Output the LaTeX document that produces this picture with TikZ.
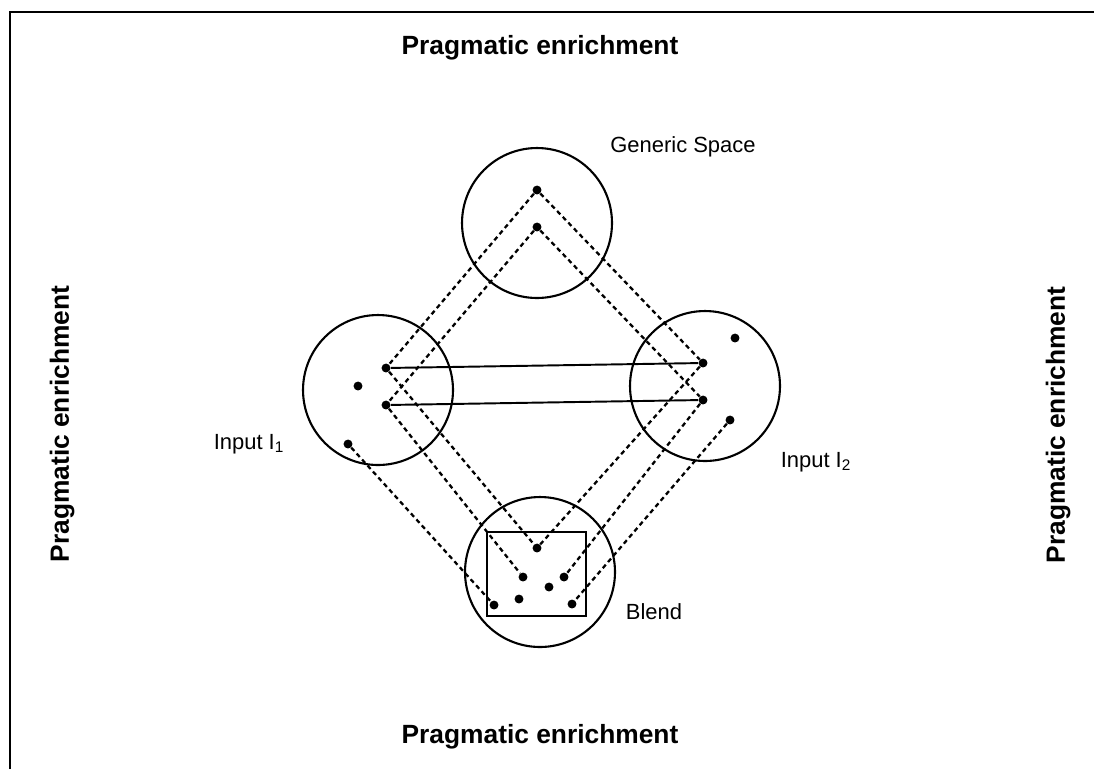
\documentclass[tikz,border=0pt]{standalone}
\usepackage{fontspec}
\setmainfont{Liberation Sans}
\usetikzlibrary{positioning}

\begin{document}
\begin{tikzpicture}[
  x=0.02cm,y=-0.02cm,
  space/.style={draw,circle,line width=1.2pt,minimum size=3cm,inner sep=0pt},
  pt/.style={circle,fill,inner sep=1.8pt},
  link/.style={line width=1.3pt,dash pattern=on 2.6pt off 2pt},
  counterpart/.style={line width=1.1pt},
  enrich/.style={font=\fontsize{15}{18}\selectfont\bfseries},
  label/.style={font=\fontsize{12.5}{15}\selectfont}
]
  \useasboundingbox (0,0) rectangle (1094,769);
  \draw[line width=1.6pt] (10,769) -- (10,12) -- (1094,12);

  % mental spaces
  \node[space] (generic) at (537,223) {};
  \node[space] (inputA) at (378,390) {};
  \node[space] (inputB) at (705,386) {};
  \node[space] (blend) at (540,572) {};
  \draw[line width=1.2pt] (487,532) rectangle (586,616);

  % elements
  \node[pt] (g1) at (537,190) {};
  \node[pt] (g2) at (537,227) {};
  \node[pt] (a1) at (386,368) {};
  \node[pt] (a2) at (386,405) {};
  \node[pt] (a3) at (358,386) {};
  \node[pt] (a4) at (348,444) {};
  \node[pt] (b1) at (703,363) {};
  \node[pt] (b2) at (703,400) {};
  \node[pt] (b3) at (735,338) {};
  \node[pt] (b4) at (730,420) {};
  \node[pt] (m1) at (537,548) {};
  \node[pt] (m2) at (523,577) {};
  \node[pt] (m3) at (564,577) {};
  \node[pt] (m4) at (549,587) {};
  \node[pt] (m5) at (519,599) {};
  \node[pt] (m6) at (494,605) {};
  \node[pt] (m7) at (572,604) {};

  % cross-space mapping
  \draw[counterpart] (a1) -- (b1);
  \draw[counterpart] (a2) -- (b2);

  % projections
  \draw[link] (g1) -- (a1);
  \draw[link] (g2) -- (a2);
  \draw[link] (g1) -- (b1);
  \draw[link] (g2) -- (b2);
  \draw[link] (a1) -- (m1);
  \draw[link] (a2) -- (m2);
  \draw[link] (a4) -- (m6);
  \draw[link] (b1) -- (m1);
  \draw[link] (b2) -- (m3);
  \draw[link] (b4) -- (m7);

  % labels
  \node[label] (genericlabel) at (683,147) {Generic Space};
  \node[label] (inputAlabel) at (249,444) {Input I\textsubscript{1}};
  \node[label] (inputBlabel) at (816,462) {Input I\textsubscript{2}};
  \node[label] (blendlabel) at (654,612) {Blend};

  \node[enrich] (top) at (540,48) {Pragmatic enrichment};
  \node[enrich] (bottom) at (540,737) {Pragmatic enrichment};
  \node[enrich,rotate=90] (left) at (62,424) {Pragmatic enrichment};
  \node[enrich,rotate=90] (right) at (1058,425) {Pragmatic enrichment};
\end{tikzpicture}
\end{document}
